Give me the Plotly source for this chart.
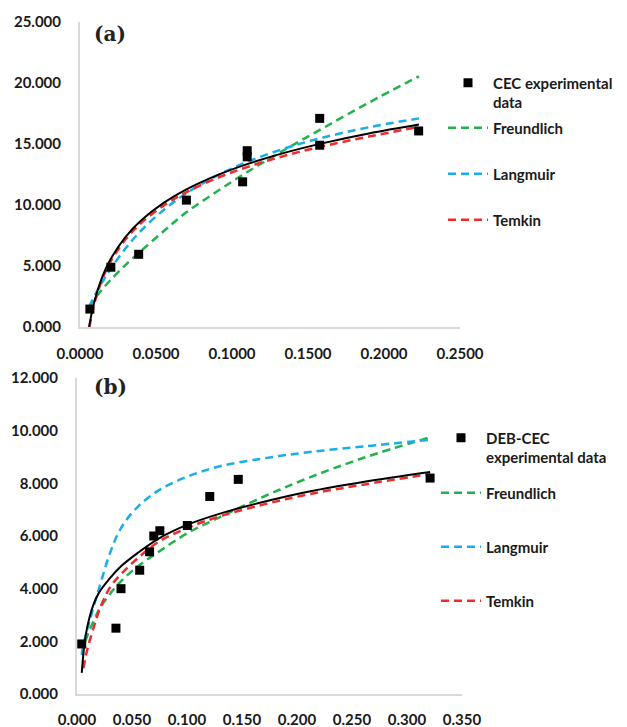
import plotly.graph_objects as go

# ---------------- (a) CEC ----------------
a_exp_x = [0.0065, 0.0203, 0.0386, 0.0700, 0.1070, 0.1100, 0.1100, 0.1577, 0.1577, 0.2228]
a_exp_y = [1.47, 4.90, 5.96, 10.40, 11.90, 14.45, 13.95, 17.10, 14.90, 16.07]

a_fit_x = [0.006, 0.008, 0.010, 0.015, 0.020, 0.030, 0.040, 0.055, 0.070, 0.090, 0.110, 0.135, 0.160, 0.190, 0.223]
a_black_y = [0.00, 1.32, 2.34, 4.21, 5.53, 7.39, 8.71, 10.17, 11.28, 12.43, 13.35, 14.29, 15.07, 15.86, 16.59]
a_freund_y = [1.66, 2.03, 2.37, 3.14, 3.84, 5.09, 6.22, 7.85, 9.40, 11.10, 12.70, 14.55, 16.31, 18.39, 20.55]
a_langm_y = [1.66, 2.17, 2.65, 3.75, 4.75, 6.45, 7.87, 9.59, 10.96, 12.40, 13.53, 14.65, 15.53, 16.37, 17.10]
a_temkin_x = [0.0062, 0.008, 0.010, 0.015, 0.020, 0.030, 0.040, 0.055, 0.070, 0.090, 0.110, 0.135, 0.160, 0.190, 0.223]
a_temkin_y = [0.00, 1.16, 2.18, 4.03, 5.34, 7.19, 8.50, 9.95, 11.05, 12.20, 13.11, 14.05, 14.82, 15.61, 16.40]

# ---------------- (b) DEB-CEC ----------------
b_exp_x = [0.0043, 0.0354, 0.0400, 0.0570, 0.0660, 0.0698, 0.0753, 0.1003, 0.1207, 0.1466, 0.3210]
b_exp_y = [1.90, 2.50, 4.00, 4.70, 5.40, 6.00, 6.20, 6.40, 7.50, 8.15, 8.20]

b_fit_x = [0.0043, 0.006, 0.008, 0.011, 0.015, 0.020, 0.030, 0.040, 0.055, 0.075, 0.100, 0.130, 0.170, 0.210, 0.260, 0.321]
b_black_y = [0.80, 1.60, 2.25, 2.85, 3.40, 3.85, 4.40, 4.85, 5.35, 5.92, 6.42, 6.85, 7.30, 7.68, 8.05, 8.43]
b_freund_y = [1.55, 1.80, 2.05, 2.40, 2.75, 3.20, 3.80, 4.28, 4.84, 5.42, 6.10, 6.72, 7.50, 8.20, 8.96, 9.75]
b_langm_y = [1.48, 1.85, 2.25, 2.70, 3.30, 4.00, 5.35, 6.30, 7.10, 7.75, 8.25, 8.65, 8.95, 9.18, 9.40, 9.65]
b_temkin_x = [0.0058, 0.008, 0.011, 0.015, 0.020, 0.030, 0.040, 0.055, 0.075, 0.100, 0.130, 0.170, 0.210, 0.260, 0.321]
b_temkin_y = [0.98, 1.45, 1.95, 2.50, 3.15, 4.05, 4.55, 5.15, 5.80, 6.30, 6.75, 7.20, 7.58, 7.95, 8.35]

a_exp_name = "\u00a0<br>CEC experimental<br>data"
b_exp_name = "\u00a0<br>DEB-CEC<br>experimental data"
model_names = ["Freundlich", "Langmuir", "Temkin"]

GREEN = "#22b24c"
BLUE = "#1aaee8"
RED = "#f22a2a"
W, H = 627, 727
FONT = dict(family="Lato", size=15, color="#1a1a1a", weight="bold")

fig = go.Figure()

def add_panel(xa, ya, fx, freund, langm, tx, temk, black, ex, ey, exname, legs):
    fig.add_trace(go.Scatter(x=fx, y=freund, mode="lines", name=model_names[0],
                             line=dict(color=GREEN, width=2.5, dash="8px,5px", shape="spline"),
                             xaxis=xa, yaxis=ya, legend=legs[1]))
    fig.add_trace(go.Scatter(x=fx, y=langm, mode="lines", name=model_names[1],
                             line=dict(color=BLUE, width=2.5, dash="8px,5px", shape="spline"),
                             xaxis=xa, yaxis=ya, legend=legs[2]))
    fig.add_trace(go.Scatter(x=tx, y=temk, mode="lines", name=model_names[2],
                             line=dict(color=RED, width=2.5, dash="8px,5px", shape="spline"),
                             xaxis=xa, yaxis=ya, legend=legs[3]))
    fig.add_trace(go.Scatter(x=fx, y=black, mode="lines", showlegend=False,
                             line=dict(color="black", width=2, shape="spline"),
                             xaxis=xa, yaxis=ya))
    fig.add_trace(go.Scatter(x=ex, y=ey, mode="markers", name=exname,
                             marker=dict(symbol="square", size=9, color="black"),
                             xaxis=xa, yaxis=ya, legend=legs[0]))

add_panel("x", "y", a_fit_x, a_freund_y, a_langm_y, a_temkin_x, a_temkin_y, a_black_y,
          a_exp_x, a_exp_y, a_exp_name, ["legend", "legend2", "legend3", "legend4"])
add_panel("x2", "y2", b_fit_x, b_freund_y, b_langm_y, b_temkin_x, b_temkin_y, b_black_y,
          b_exp_x, b_exp_y, b_exp_name, ["legend5", "legend6", "legend7", "legend8"])

axis_common = dict(showgrid=False, zeroline=False, showline=True, linecolor="#d9d9d9",
                   linewidth=2, ticks="", tickfont=FONT)

fig.update_layout(
    width=W, height=H, autosize=False,
    margin=dict(l=0, r=0, t=0, b=0, autoexpand=False),
    paper_bgcolor="white", plot_bgcolor="white",
    xaxis=dict(domain=[80 / W, 460 / W], range=[0, 0.25], dtick=0.05, tickformat=".4f",
               anchor="y", ticklabelstandoff=12, **axis_common),
    yaxis=dict(domain=[1 - 327 / H, 1 - 22 / H], range=[0, 25], dtick=5, tickformat=".3f",
               anchor="x", ticklabelstandoff=14, **axis_common),
    xaxis2=dict(domain=[77 / W, 462 / W], range=[0, 0.35], dtick=0.05, tickformat=".3f",
                anchor="y2", ticklabelstandoff=11, **axis_common),
    yaxis2=dict(domain=[1 - 694 / H, 1 - 378 / H], range=[0, 12], dtick=2, tickformat=".3f",
                anchor="x2", ticklabelstandoff=14, **axis_common),
    annotations=[
        dict(text="(a)", x=110 / W, y=1 - 34 / H, xref="paper", yref="paper", showarrow=False,
             xanchor="center", yanchor="middle",
             font=dict(family="DejaVu Serif", size=20, color="#222222", weight="bold")),
        dict(text="(b)", x=110 / W, y=1 - 387 / H, xref="paper", yref="paper", showarrow=False,
             xanchor="center", yanchor="middle",
             font=dict(family="DejaVu Serif", size=20, color="#222222", weight="bold")),
    ],
)

leg_common = dict(font=FONT, bgcolor="rgba(0,0,0,0)", xanchor="left", yanchor="middle",
                  itemwidth=40, borderwidth=0)
a_leg_y = [83, 128, 174, 220]
b_leg_y = [438, 493, 547, 601]
names = ["legend", "legend2", "legend3", "legend4", "legend5", "legend6", "legend7", "legend8"]
for i, nm in enumerate(names):
    py = a_leg_y[i] if i < 4 else b_leg_y[i - 4]
    px = 443 if i < 4 else 436
    fig.update_layout({nm: dict(x=px / W, y=1 - py / H, **leg_common)})

fig.write_html("out.html")
